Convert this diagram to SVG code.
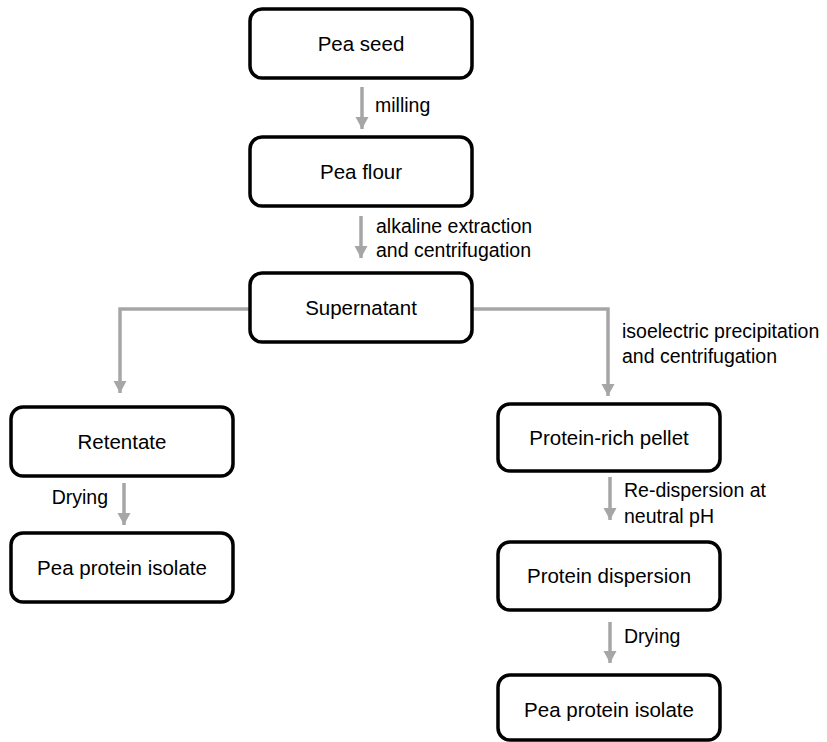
<svg xmlns="http://www.w3.org/2000/svg" width="827" height="742" viewBox="0 0 827 742">
<style>
.box{fill:#fff;stroke:#000;stroke-width:3.5}
.nt{font-family:"Liberation Sans",Arial,sans-serif;font-size:20.5px;fill:#000;text-anchor:middle}
.lt{font-family:"Liberation Sans",Arial,sans-serif;font-size:19.5px;fill:#000}
.con{fill:none;stroke:#a6a6a6;stroke-width:3.5}
</style>
<defs>
<marker id="ah" markerUnits="userSpaceOnUse" markerWidth="14" markerHeight="14" refX="12" refY="6.5" orient="auto">
<path d="M0,0 L12,6.5 L0,13 Z" fill="#a6a6a6"/>
</marker>
</defs>
<g id="connectors">
<path class="con" d="M362,87 V129" marker-end="url(#ah)"/>
<path class="con" d="M361,216 V258" marker-end="url(#ah)"/>
<path class="con" d="M250,309 H120 V393" marker-end="url(#ah)"/>
<path class="con" d="M472,309 H608 V396" marker-end="url(#ah)"/>
<path class="con" d="M124,483 V525" marker-end="url(#ah)"/>
<path class="con" d="M610,477 V520" marker-end="url(#ah)"/>
<path class="con" d="M610,622 V663" marker-end="url(#ah)"/>
</g>
<g id="labels">
<text class="lt" x="375" y="112">milling</text>
<text class="lt" x="376" y="233">alkaline extraction</text>
<text class="lt" x="376" y="257">and centrifugation</text>
<text class="lt" x="622" y="338">isoelectric precipitation</text>
<text class="lt" x="622" y="363">and centrifugation</text>
<text class="lt" x="108" y="504" text-anchor="end">Drying</text>
<text class="lt" x="624" y="497">Re-dispersion at</text>
<text class="lt" x="624" y="523">neutral pH</text>
<text class="lt" x="624" y="643">Drying</text>
</g>
<g id="pea-seed"><rect class="box" x="250" y="9" width="222" height="69" rx="12"/><text class="nt" x="361" y="51">Pea seed</text></g>
<g id="pea-flour"><rect class="box" x="250" y="137" width="222" height="69" rx="12"/><text class="nt" x="361" y="179">Pea flour</text></g>
<g id="supernatant"><rect class="box" x="250" y="273" width="222" height="69" rx="12"/><text class="nt" x="361" y="315">Supernatant</text></g>
<g id="retentate"><rect class="box" x="11" y="407" width="222" height="69" rx="12"/><text class="nt" x="122" y="449">Retentate</text></g>
<g id="pea-protein-isolate-left"><rect class="box" x="11" y="533" width="222" height="69" rx="12"/><text class="nt" x="122" y="575">Pea protein isolate</text></g>
<g id="protein-rich-pellet"><rect class="box" x="498" y="404" width="222" height="67" rx="12"/><text class="nt" x="609" y="445">Protein-rich pellet</text></g>
<g id="protein-dispersion"><rect class="box" x="498" y="542" width="222" height="68" rx="12"/><text class="nt" x="609" y="583">Protein dispersion</text></g>
<g id="pea-protein-isolate-right"><rect class="box" x="498" y="675" width="222" height="65" rx="12"/><text class="nt" x="609" y="717">Pea protein isolate</text></g>
</svg>
